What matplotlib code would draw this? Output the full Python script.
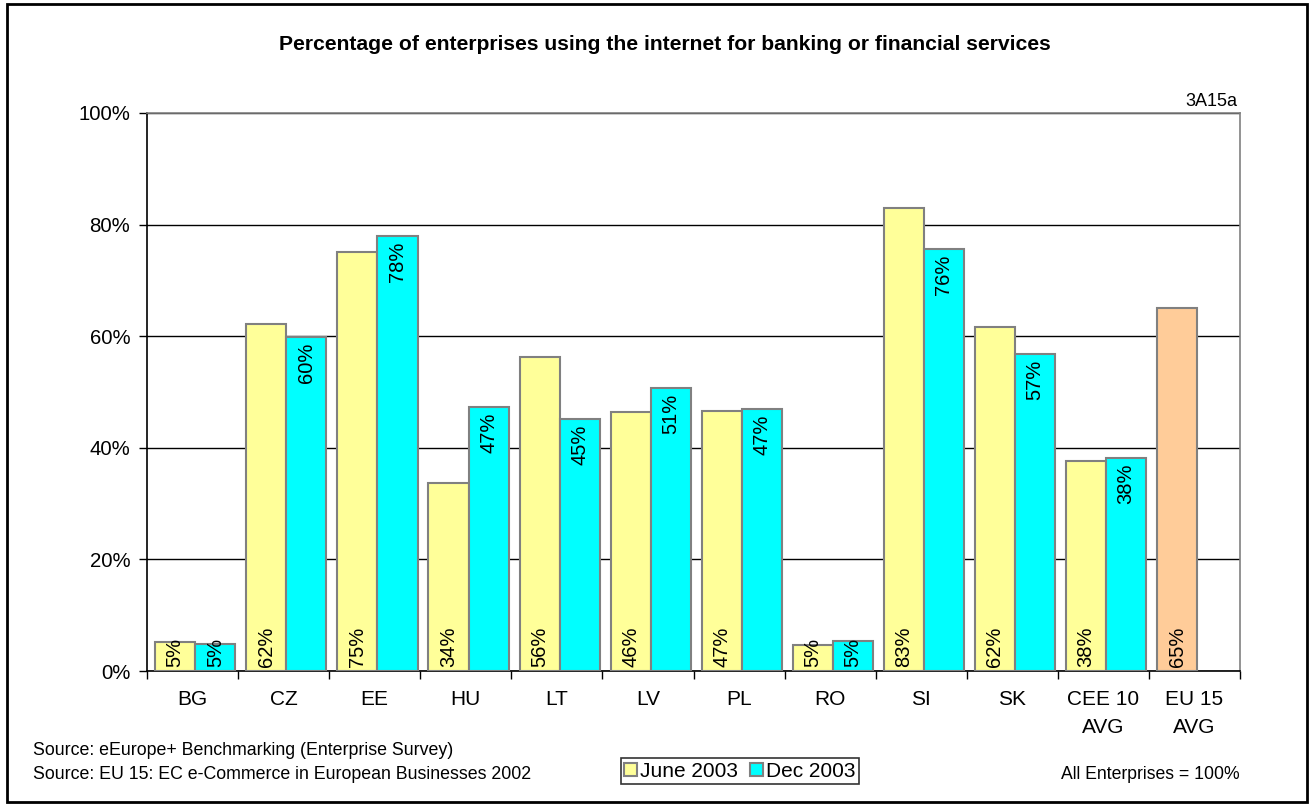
import numpy as np
import matplotlib.pyplot as plt
from matplotlib.patches import Rectangle

plt.rcParams['font.family'] = ['Liberation Sans', 'DejaVu Sans']

# enterprises using internet banking, percent
countries = ["BG", "CZ", "EE", "HU", "LT", "LV", "PL", "RO", "SI", "SK", "CEE 10\nAVG", "EU 15\nAVG"]
june_2003 = [5.2, 62.2, 75.1, 33.7, 56.3, 46.4, 46.6, 4.6, 83.0, 61.6, 37.6]
dec_2003 = [4.8, 59.9, 78.0, 47.3, 45.2, 50.7, 47.0, 5.3, 75.6, 56.8, 38.2]
eu15_avg = 65.0
yticks = [0, 20, 40, 60, 80, 100]

fig = plt.figure(figsize=(13.12, 8.05), dpi=100)
ax = fig.add_axes([147 / 1312, 134 / 805, 1093 / 1312, 558 / 805])

bw = 0.44
x = np.arange(len(countries))
xj = x[:len(june_2003)] - bw / 2 + 0.03
xd = x[:len(dec_2003)] + bw / 2 + 0.03
xe = x[-1] - bw / 2 + 0.03

bj = ax.bar(xj, june_2003, bw, color="#FFFF99", edgecolor="#808080", linewidth=1.5, zorder=3, label="June 2003")
bd = ax.bar(xd, dec_2003, bw, color="#00FFFF", edgecolor="#808080", linewidth=1.5, zorder=3, label="Dec 2003")
ax.bar([xe], [eu15_avg], bw, color="#FFCC99", edgecolor="#808080", linewidth=1.5, zorder=3)

# June labels sit at the base, Dec labels hang from the top of the bar
lab_fs = 14.5
for xi, v in zip(xj, june_2003):
    ax.annotate(f"{v:.0f}%", (xi, 0), xytext=(0, 3), textcoords="offset points",
                rotation=90, ha="center", va="bottom", fontsize=lab_fs, zorder=4)
ax.annotate(f"{eu15_avg:.0f}%", (xe, 0), xytext=(0, 3), textcoords="offset points",
            rotation=90, ha="center", va="bottom", fontsize=lab_fs, zorder=4)
for xi, v in zip(xd, dec_2003):
    if v < 8:
        ax.annotate(f"{v:.0f}%", (xi, 0), xytext=(0, 3), textcoords="offset points",
                    rotation=90, ha="center", va="bottom", fontsize=lab_fs, zorder=4)
    else:
        ax.annotate(f"{v:.0f}%", (xi, v), xytext=(0, -4), textcoords="offset points",
                    rotation=90, ha="center", va="top", fontsize=lab_fs, zorder=4)

ax.set_xlim(-0.5, len(countries) - 0.5)
ax.set_ylim(0, 100)
ax.set_yticks(yticks)
ax.set_yticklabels([f"{t}%" for t in yticks], fontsize=14.7)
ax.yaxis.grid(True, color="black", linewidth=1)
ax.set_axisbelow(True)

ax.set_xticks(x)
ax.set_xticklabels(countries, fontsize=15, linespacing=1.6)
ax.set_xticks(np.arange(-0.5, len(countries)), minor=True)
ax.tick_params(axis="x", which="major", length=0, pad=14)
ax.tick_params(axis="x", which="minor", length=6, direction="out", width=1)
ax.tick_params(axis="y", length=6, direction="out", width=1, pad=6)

ax.spines["left"].set_color("black")
ax.spines["bottom"].set_color("black")
ax.spines["top"].set_color("#808080")
ax.spines["right"].set_color("#808080")
for s in ax.spines.values():
    s.set_linewidth(1.2)

fig.text(665 / 1312, 1 - 45 / 805, "Percentage of enterprises using the internet for banking or financial services",
         ha="center", va="center", fontsize=15.2, fontweight="bold")
fig.text(1237 / 1312, 1 - 101 / 805, "3A15a", ha="right", va="center", fontsize=13)

fig.text(33 / 1312, 1 - 750 / 805, "Source: eEurope+ Benchmarking (Enterprise Survey)", ha="left", va="center", fontsize=12.8)
fig.text(33 / 1312, 1 - 774 / 805, "Source: EU 15: EC e-Commerce in European Businesses 2002", ha="left", va="center", fontsize=12.8)
fig.text(1240 / 1312, 1 - 774 / 805, "All Enterprises = 100%", ha="right", va="center", fontsize=12.7)

leg = fig.legend(handles=[bj, bd], loc="center", bbox_to_anchor=(740 / 1312, 1 - 771 / 805), ncol=2,
                 fontsize=15, frameon=True, fancybox=False, edgecolor="black", borderpad=0.15,
                 handlelength=0.6, handleheight=0.6, handletextpad=0.15, columnspacing=0.6,
                 borderaxespad=0)
leg.get_frame().set_linewidth(1.2)

fig.patches.append(Rectangle((7 / 1312, 3 / 805), 1300 / 1312, 798 / 805, transform=fig.transFigure,
                             fill=False, edgecolor="black", linewidth=2))

fig.savefig("out.png", dpi=100)
